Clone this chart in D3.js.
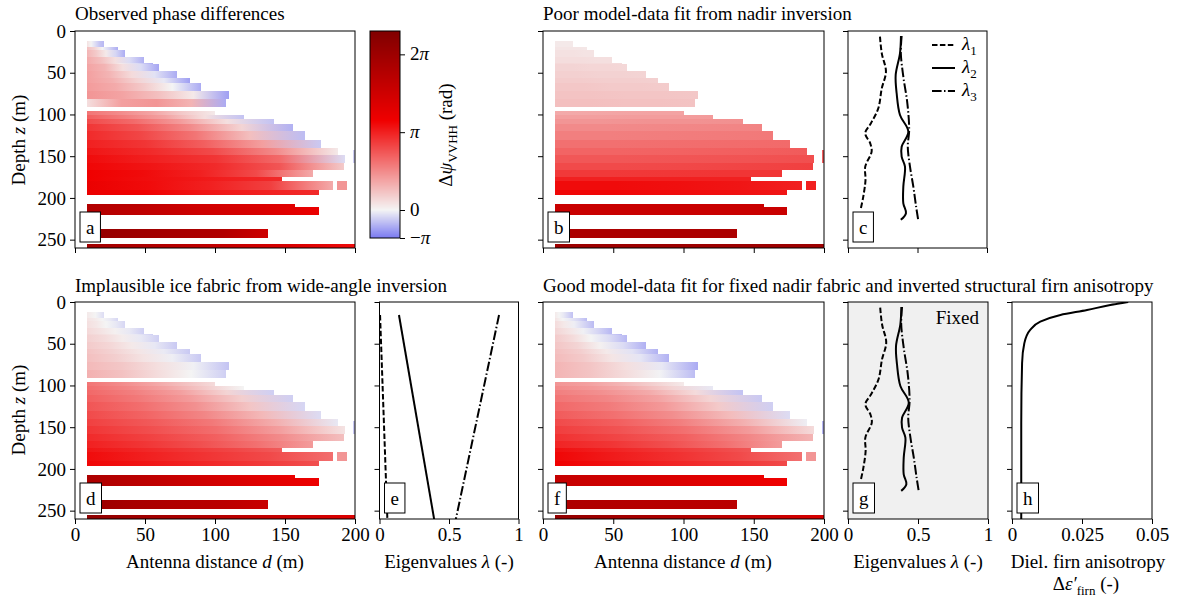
<!DOCTYPE html>
<html>
<head>
<meta charset="utf-8">
<script src="https://cdn.jsdelivr.net/npm/d3@7"></script>
<style>
body { margin: 0; background: #fff; }
svg text { font-family: "Liberation Serif", "DejaVu Serif", serif; font-size: 19px; fill: #000; }
</style>
</head>
<body>
<div id="chart"></div>
<script>
// ticks
var depthTicks = [0, 50, 100, 150, 200, 250];
var distTicks = [0, 50, 100, 150, 200];
var eigTicks = [0, 0.5, 1];
var firnTicks = [0, 0.025, 0.05];
var phaseTicks = [-1, 0, 1, 2];           // in units of pi
var phaseTickText = [["\u2212", "\u03c0"], ["0", ""], ["", "\u03c0"], ["2", "\u03c0"]];

// depth bins of the phase-difference sections (m) and their last antenna distance (m)
var firstDistance = 8.3;
var rowTop =    [12, 19, 23, 31, 38, 40, 48, 56, 62, 72, 82, 96, 101, 106, 112, 120, 130, 140, 148, 158, 166, 175, 180, 190, 207, 211, 237.5, 255];
var rowBottom = [19, 23, 31, 38, 40, 48, 56, 62, 72, 82, 91, 101, 106, 112, 120, 130, 140, 148, 158, 166, 175, 180, 190, 196, 211, 220, 248.3, 263];
var rowEnd =    [21, 31, 36, 49, 56, 60, 73, 82, 90, 110, 108, 100, 121, 142, 156, 164, 176, 188, 193, 192, 170, 148, 184, 174, 157, 174, 138, 201];
// isolated cells: [zTop, zBottom, dStart, dEnd]
var extraCells = [[142, 158, 198.5, 201], [180, 190, 187, 194]];

// phase difference (units of pi) read at 0, 1/4, 1/2, 3/4, 1 of each row's extent
var phaseObserved = [
  [0.1, 0.0, -0.2, -0.4, -0.5], [0.25, 0.15, 0.0, -0.3, -0.6], [0.3, 0.2, 0.05, -0.25, -0.6],
  [0.35, 0.25, 0.1, -0.2, -0.55], [0.35, 0.25, 0.05, -0.2, -0.6], [0.38, 0.3, 0.1, -0.2, -0.65],
  [0.4, 0.3, 0.12, -0.15, -0.6], [0.4, 0.32, 0.15, -0.1, -0.7], [0.42, 0.35, 0.2, 0.0, -0.6],
  [0.45, 0.38, 0.25, 0.05, -0.7], [0.1, 0.4, 0.45, 0.3, -0.6],
  [0.6, 0.5, 0.38, 0.2, 0.05], [0.7, 0.55, 0.38, 0.1, -0.4], [0.8, 0.65, 0.42, 0.1, -0.4],
  [0.9, 0.75, 0.5, 0.15, -0.55], [0.95, 0.82, 0.6, 0.25, -0.45], [1.0, 0.9, 0.7, 0.4, -0.35],
  [1.05, 0.95, 0.8, 0.5, 0.05], [1.1, 1.0, 0.9, 0.65, -0.2], [1.12, 1.05, 0.95, 0.75, 0.2],
  [1.15, 1.1, 1.0, 0.8, 0.35], [1.15, 1.1, 1.05, 1.0, 0.95], [1.2, 1.1, 1.0, 0.85, 0.35],
  [1.2, 1.15, 1.05, 1.0, 0.95],
  [1.8, 1.7, 1.5, 1.4, 1.3], [1.8, 1.65, 1.5, 1.4, 1.2], [2.1, 2.0, 1.9, 1.8, 1.5], [1.95, 1.8, 1.6, 1.4, 1.1]
];
var phaseNadir = [
  [0.05, 0.05, 0.05, 0.05, 0.05], [0.07, 0.07, 0.07, 0.07, 0.06], [0.09, 0.09, 0.09, 0.08, 0.08],
  [0.11, 0.11, 0.11, 0.1, 0.1], [0.13, 0.13, 0.12, 0.12, 0.12], [0.15, 0.15, 0.14, 0.14, 0.13],
  [0.17, 0.17, 0.16, 0.16, 0.15], [0.19, 0.19, 0.18, 0.18, 0.17], [0.21, 0.21, 0.2, 0.2, 0.19],
  [0.23, 0.23, 0.22, 0.22, 0.21], [0.25, 0.25, 0.24, 0.24, 0.23],
  [0.35, 0.36, 0.37, 0.38, 0.38], [0.4, 0.4, 0.41, 0.41, 0.42], [0.45, 0.45, 0.46, 0.46, 0.47],
  [0.5, 0.5, 0.51, 0.52, 0.53], [0.55, 0.55, 0.56, 0.57, 0.58], [0.62, 0.62, 0.63, 0.64, 0.65],
  [0.68, 0.68, 0.69, 0.7, 0.72], [0.74, 0.74, 0.75, 0.76, 0.78], [0.8, 0.8, 0.81, 0.83, 0.85],
  [0.88, 0.88, 0.89, 0.9, 0.9], [1.0, 1.0, 1.0, 1.0, 1.0], [1.1, 1.1, 1.08, 1.05, 1.0],
  [1.12, 1.12, 1.1, 1.08, 1.05],
  [1.55, 1.55, 1.55, 1.55, 1.55], [1.55, 1.55, 1.55, 1.55, 1.55], [1.85, 1.85, 1.85, 1.85, 1.85], [2.0, 2.0, 2.0, 2.0, 2.0]
];
var phaseWide = [
  [0.05, 0.03, 0.0, -0.1, -0.2], [0.08, 0.05, 0.0, -0.1, -0.25], [0.1, 0.06, 0.0, -0.1, -0.25],
  [0.13, 0.08, 0.02, -0.1, -0.3], [0.15, 0.1, 0.03, -0.1, -0.3], [0.17, 0.12, 0.04, -0.1, -0.3],
  [0.2, 0.14, 0.05, -0.1, -0.35], [0.23, 0.16, 0.07, -0.08, -0.35], [0.25, 0.18, 0.08, -0.05, -0.35],
  [0.28, 0.21, 0.1, -0.03, -0.4], [0.32, 0.24, 0.12, 0.0, -0.3],
  [0.6, 0.5, 0.38, 0.25, 0.12], [0.63, 0.52, 0.38, 0.2, 0.0], [0.66, 0.55, 0.4, 0.15, -0.3],
  [0.7, 0.58, 0.42, 0.18, -0.3], [0.75, 0.63, 0.47, 0.22, -0.25], [0.8, 0.68, 0.52, 0.28, -0.2],
  [0.85, 0.73, 0.58, 0.33, -0.1], [0.9, 0.78, 0.63, 0.4, 0.08], [0.95, 0.84, 0.7, 0.5, 0.25],
  [1.0, 0.9, 0.78, 0.62, 0.42], [1.05, 0.98, 0.9, 0.82, 0.72], [1.1, 1.0, 0.9, 0.8, 0.63],
  [1.12, 1.05, 0.97, 0.88, 0.78],
  [1.85, 1.7, 1.5, 1.35, 1.2], [1.85, 1.68, 1.5, 1.32, 1.18], [2.05, 1.9, 1.8, 1.7, 1.55], [2.15, 1.95, 1.75, 1.55, 1.35]
];
var phaseFixed = [
  [0.05, 0.0, -0.1, -0.25, -0.4], [0.08, 0.0, -0.1, -0.25, -0.45], [0.12, 0.05, -0.05, -0.25, -0.45],
  [0.15, 0.08, -0.03, -0.25, -0.5], [0.17, 0.1, -0.02, -0.2, -0.5], [0.2, 0.12, 0.0, -0.2, -0.5],
  [0.22, 0.15, 0.02, -0.2, -0.55], [0.25, 0.18, 0.05, -0.15, -0.55], [0.27, 0.2, 0.07, -0.12, -0.55],
  [0.3, 0.22, 0.1, -0.1, -0.6], [0.3, 0.23, 0.12, -0.02, -0.45],
  [0.45, 0.4, 0.3, 0.18, 0.05], [0.5, 0.43, 0.32, 0.15, -0.1], [0.55, 0.47, 0.35, 0.12, -0.4],
  [0.6, 0.52, 0.38, 0.15, -0.35], [0.66, 0.57, 0.43, 0.2, -0.3], [0.72, 0.62, 0.48, 0.26, -0.2],
  [0.8, 0.7, 0.55, 0.32, -0.05], [0.86, 0.76, 0.62, 0.42, 0.12], [0.92, 0.82, 0.7, 0.52, 0.3],
  [0.98, 0.9, 0.78, 0.62, 0.42], [1.08, 1.0, 0.92, 0.84, 0.75], [1.12, 1.02, 0.92, 0.8, 0.62],
  [1.15, 1.07, 0.98, 0.9, 0.8],
  [1.6, 1.5, 1.4, 1.3, 1.2], [1.6, 1.5, 1.38, 1.27, 1.15], [1.85, 1.8, 1.75, 1.72, 1.7], [2.1, 1.95, 1.8, 1.6, 1.4]
];
var extraObserved = [-0.3, 0.45];
var extraNadir = [0.7, 1.0];
var extraWide = [-0.35, 0.45];
var extraFixed = [-0.5, 0.45];

// eigenvalue profiles [depth (m), lambda]
var lambda1Nadir = [[6.8, 0.23], [26.7, 0.243], [48.7, 0.273], [68.7, 0.243], [92.6, 0.218], [110.6, 0.165], [122.6, 0.124], [134.6, 0.16], [144.6, 0.17], [162.5, 0.124], [178.4, 0.126], [198.4, 0.11], [214.4, 0.09]];
var lambda2Nadir = [[6, 0.381], [26.7, 0.374], [52.7, 0.343], [74.6, 0.35], [100.6, 0.374], [120.6, 0.434], [138.6, 0.386], [150.5, 0.386], [162.5, 0.41], [186.5, 0.398], [206.4, 0.398], [218.3, 0.417], [226.3, 0.38]];
var lambda3Nadir = [[6, 0.386], [26.3, 0.38], [54.7, 0.398], [86.6, 0.427], [118.6, 0.44], [138.6, 0.43], [162.5, 0.446], [186.5, 0.47], [210.4, 0.49], [227.5, 0.506]];
var lambda1Wide = [[15.6, 0.004], [262, 0.057]];
var lambda2Wide = [[15.6, 0.14], [262, 0.395]];
var lambda3Wide = [[15.6, 0.86], [262, 0.547]];
// firn anisotropy profile [depth (m), delta eps]
var firnProfile = [[0, 0.0415], [3.6, 0.0351], [9.6, 0.0268], [15.6, 0.0173], [23.6, 0.0101], [33.5, 0.0065], [49.5, 0.0044], [73.4, 0.0036], [145, 0.0033], [262, 0.0033]];

var dashed = "5.5,2.4";
var dashDot = "9.6,2.4,1.5,2.4";

var svg = d3.select("#chart").append("svg").attr("width", 1180).attr("height", 599);
var defs = svg.append("defs");
var uid = 0;

//seismic colormap, two slopes around zero
var seismic = d3.scaleLinear().domain([0, 0.25, 0.5, 0.75, 1])
  .range(["#00004d", "#0000f0", "#f4f4f4", "#f00000", "#800000"]);
var phaseMax = 2.3;
function phaseColor(v) {
  var t = v < 0 ? 0.5 + 0.125 * v : 0.5 + 0.5 * v / phaseMax;
  return seismic(t);
}

// write text with italic / subscript pieces
function rich(sel, parts) {
  var shift = 0;
  parts.forEach(function(p) {
    var ts = sel.append("tspan").text(p[0]);
    if (p[1] === "i") ts.attr("font-style", "italic");
    if (p[1] === "sub") { ts.style("font-size", "13px").attr("dy", 5 - shift); shift = 5; }
    else if (shift) { ts.attr("dy", -shift); shift = 0; }
  });
  return sel;
}

function panel(x0, x1, yr, xDomain) {
  var p = {};
  p.x = d3.scaleLinear().domain(xDomain).range([x0, x1]);
  p.y = d3.scaleLinear().domain([0, 260]).range(yr);
  p.g = svg.append("g");
  var id = "clip" + (uid++);
  defs.append("clipPath").attr("id", id).append("rect")
    .attr("x", x0).attr("y", yr[0]).attr("width", x1 - x0).attr("height", yr[1] - yr[0]);
  p.plot = p.g.append("g").attr("clip-path", "url(#" + id + ")");
  return p;
}

function axes(p, xTicks, showX, showY) {
  var x0 = p.x.range()[0], x1 = p.x.range()[1], y0 = p.y.range()[0], y1 = p.y.range()[1];
  p.g.append("g").attr("transform", "translate(" + x0 + ",0)")
    .call(d3.axisLeft(p.y).tickValues(depthTicks).tickSize(5).tickPadding(4).tickFormat(showY ? d3.format("d") : ""))
    .call(function(a) { a.select(".domain").remove(); });
  p.g.append("g").attr("transform", "translate(0," + y1 + ")")
    .call(d3.axisBottom(p.x).tickValues(xTicks).tickSize(5).tickPadding(4).tickFormat(showX ? function(d) { return String(d); } : ""))
    .call(function(a) { a.select(".domain").remove(); });
  p.g.append("rect").attr("x", x0).attr("y", y0).attr("width", x1 - x0).attr("height", y1 - y0)
    .attr("fill", "none").attr("stroke", "#000").attr("stroke-width", 1);
}

function letter(p, s) {
  var x0 = p.x.range()[0], y1 = p.y.range()[1];
  var box = p.g.append("rect").attr("y", y1 - 36).attr("height", 30)
    .attr("fill", "#fff").attr("stroke", "#000").attr("stroke-width", 1);
  var t = p.g.append("text").attr("x", x0 + 11).attr("y", y1 - 14).text(s);
  var w = t.node().getComputedTextLength();
  box.attr("x", x0 + 5).attr("width", w + 12);
}

function heat(p, values, extraValues) {
  var rows = rowTop.map(function(z, i) {
    return { top: z, bottom: rowBottom[i], end: rowEnd[i], vals: values[i], id: "grad" + (uid++) };
  });
  rows.forEach(function(r) {
    var grad = defs.append("linearGradient").attr("id", r.id).attr("gradientUnits", "userSpaceOnUse")
      .attr("x1", p.x(firstDistance)).attr("x2", p.x(r.end)).attr("y1", 0).attr("y2", 0);
    grad.selectAll("stop").data(r.vals).enter().append("stop")
      .attr("offset", function(d, k) { return k / (r.vals.length - 1); })
      .attr("stop-color", phaseColor);
  });
  p.plot.selectAll("rect.row").data(rows).enter().append("rect")
    .attr("class", "row")
    .attr("shape-rendering", "crispEdges")
    .attr("x", p.x(firstDistance))
    .attr("y", function(d) { return p.y(d.top); })
    .attr("width", function(d) { return p.x(d.end) - p.x(firstDistance); })
    .attr("height", function(d) { return p.y(d.bottom) - p.y(d.top); })
    .attr("fill", function(d) { return "url(#" + d.id + ")"; });
  p.plot.selectAll("rect.cell").data(extraCells).enter().append("rect")
    .attr("class", "cell")
    .attr("shape-rendering", "crispEdges")
    .attr("x", function(d) { return p.x(d[2]); })
    .attr("y", function(d) { return p.y(d[0]); })
    .attr("width", function(d) { return p.x(d[3]) - p.x(d[2]); })
    .attr("height", function(d) { return p.y(d[1]) - p.y(d[0]); })
    .attr("fill", function(d, i) { return phaseColor(extraValues[i]); });
}

function profile(p, data, dash, curve) {
  p.plot.append("path").datum(data)
    .attr("d", d3.line().x(function(d) { return p.x(d[1]); }).y(function(d) { return p.y(d[0]); }).curve(curve))
    .attr("fill", "none").attr("stroke", "#000").attr("stroke-width", 2)
    .attr("stroke-dasharray", dash);
}

var topY = [31, 248], botY = [302, 519];

// a: observed
var pa = panel(75, 355, topY, [0, 200]);
heat(pa, phaseObserved, extraObserved);
axes(pa, distTicks, false, true);
letter(pa, "a");

// b: nadir inversion
var pb = panel(543, 824, topY, [0, 200]);
heat(pb, phaseNadir, extraNadir);
axes(pb, distTicks, false, false);
letter(pb, "b");

// c: nadir eigenvalues
var pc = panel(848, 987, topY, [0, 1]);
profile(pc, lambda1Nadir, dashed, d3.curveCatmullRom);
profile(pc, lambda2Nadir, null, d3.curveCatmullRom);
profile(pc, lambda3Nadir, dashDot, d3.curveCatmullRom);
axes(pc, eigTicks, false, false);
letter(pc, "c");
var legend = [["1", dashed, 45], ["2", null, 68], ["3", dashDot, 91]];
legend.forEach(function(l) {
  pc.g.append("line").attr("x1", 932).attr("x2", 955).attr("y1", l[2]).attr("y2", l[2])
    .attr("stroke", "#000").attr("stroke-width", 2).attr("stroke-dasharray", l[1]);
  rich(pc.g.append("text").attr("x", 962).attr("y", l[2] + 5), [["\u03bb", "i"], [l[0], "sub"]]);
});

// d: wide-angle inversion
var pd = panel(75, 355, botY, [0, 200]);
heat(pd, phaseWide, extraWide);
axes(pd, distTicks, true, true);
letter(pd, "d");

// e: wide-angle eigenvalues
var pe = panel(379.5, 518.5, botY, [0, 1]);
profile(pe, lambda1Wide, dashed, d3.curveLinear);
profile(pe, lambda2Wide, null, d3.curveLinear);
profile(pe, lambda3Wide, dashDot, d3.curveLinear);
axes(pe, eigTicks, true, false);
letter(pe, "e");

// f: fixed fabric + firn
var pf = panel(543, 824, botY, [0, 200]);
heat(pf, phaseFixed, extraFixed);
axes(pf, distTicks, true, false);
letter(pf, "f");

// g: fixed eigenvalues
var pg = panel(848, 988, botY, [0, 1]);
pg.plot.append("rect").attr("x", 848).attr("y", 302).attr("width", 140).attr("height", 217).attr("fill", "#f0f0f0");
profile(pg, lambda1Nadir, dashed, d3.curveCatmullRom);
profile(pg, lambda2Nadir, null, d3.curveCatmullRom);
profile(pg, lambda3Nadir, dashDot, d3.curveCatmullRom);
axes(pg, eigTicks, true, false);
letter(pg, "g");
pg.g.append("text").attr("x", 979).attr("y", 324).attr("text-anchor", "end").text("Fixed");

// h: firn anisotropy
var ph = panel(1012, 1152, botY, [0, 0.05]);
profile(ph, firnProfile, null, d3.curveMonotoneY);
axes(ph, firnTicks, true, false);
letter(ph, "h");

// colorbar
var cbY = d3.scaleLinear().domain([-1, 0, phaseMax]).range([238, 210, 31]);
var cbRows = d3.range(31, 238);
svg.append("g").selectAll("rect").data(cbRows).enter().append("rect")
  .attr("shape-rendering", "crispEdges")
  .attr("x", 370).attr("y", function(d) { return d; }).attr("width", 30).attr("height", 1)
  .attr("fill", function(d) { return phaseColor(cbY.invert(d + 0.5)); });
svg.append("rect").attr("x", 370).attr("y", 31).attr("width", 30).attr("height", 207)
  .attr("fill", "none").attr("stroke", "#000").attr("stroke-width", 1);
var cbAxis = svg.append("g").attr("transform", "translate(400,0)")
  .call(d3.axisRight(cbY).tickValues(phaseTicks).tickSize(5).tickFormat(""))
  .call(function(a) { a.select(".domain").remove(); });
phaseTicks.forEach(function(v, i) {
  rich(svg.append("text").attr("x", 410).attr("y", cbY(v)).attr("dy", "0.32em"),
    [[phaseTickText[i][0], ""], [phaseTickText[i][1], "i"]]);
});
rich(svg.append("text").attr("transform", "translate(452,135) rotate(-90)").attr("text-anchor", "middle"),
  [["\u0394", ""], ["\u03c8", "i"], ["VVHH", "sub"], [" (rad)", ""]]);

// titles
svg.append("text").attr("x", 75).attr("y", 20).text("Observed phase differences");
svg.append("text").attr("x", 543).attr("y", 20).text("Poor model-data fit from nadir inversion");
svg.append("text").attr("x", 75).attr("y", 292).text("Implausible ice fabric from wide-angle inversion");
svg.append("text").attr("x", 543).attr("y", 292).text("Good model-data fit for fixed nadir fabric and inverted structural firn anisotropy");

// axis labels
[140, 410].forEach(function(cy) {
  rich(svg.append("text").attr("transform", "translate(25," + cy + ") rotate(-90)").attr("text-anchor", "middle"),
    [["Depth ", ""], ["z", "i"], [" (m)", ""]]);
});
[215, 683].forEach(function(cx) {
  rich(svg.append("text").attr("x", cx).attr("y", 568).attr("text-anchor", "middle"),
    [["Antenna distance ", ""], ["d", "i"], [" (m)", ""]]);
});
[449, 918].forEach(function(cx) {
  rich(svg.append("text").attr("x", cx).attr("y", 568).attr("text-anchor", "middle"),
    [["Eigenvalues ", ""], ["\u03bb", "i"], [" (-)", ""]]);
});
svg.append("text").attr("x", 1088).attr("y", 568).attr("text-anchor", "middle").text("Diel. firn anisotropy");
rich(svg.append("text").attr("x", 1086).attr("y", 590).attr("text-anchor", "middle"),
  [["\u0394", ""], ["\u03b5\u2032", "i"], ["firn", "sub"], [" (-)", ""]]);
</script>
</body>
</html>
